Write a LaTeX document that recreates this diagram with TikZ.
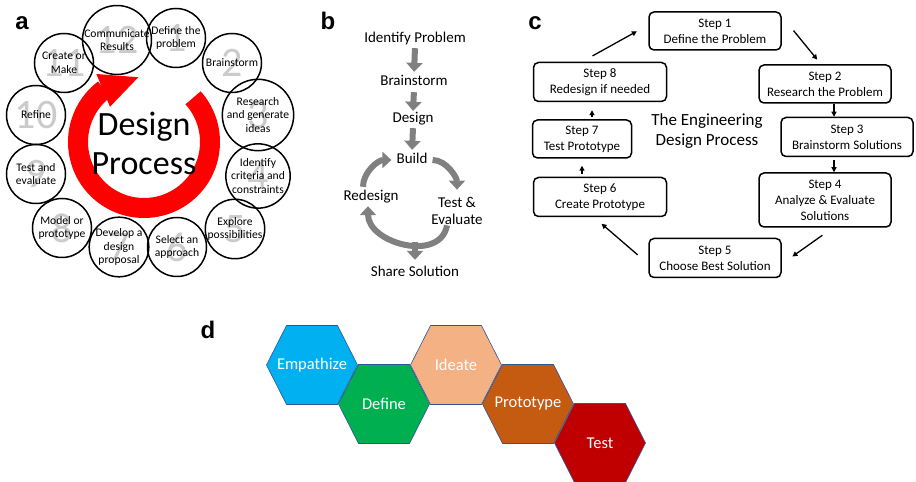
\documentclass[tikz,border=0pt]{standalone}
\usepackage{fontspec}
\setmainfont{Carlito}
\newfontfamily\labelfont{Liberation Sans}
\usepackage{xcolor}
\usepackage{tikz}
\usetikzlibrary{positioning,arrows.meta,calc}
\definecolor{ringred}  {HTML}{FF0000}
\definecolor{numgrey}  {HTML}{CBCBCB}
\definecolor{flowgrey} {HTML}{808080}
\definecolor{empblue}  {HTML}{00B0F0}
\definecolor{defgreen} {HTML}{00B050}
\definecolor{ideapeach}{HTML}{F4B183}
\definecolor{protorust}{HTML}{C55A11}
\definecolor{testred}  {HTML}{C00000}
\definecolor{hexline}  {HTML}{2F5597}
\tikzset{
  stage/.style    = {circle, draw=black, line width=1.5pt, minimum size=59pt,
                     inner sep=0pt, align=center, font=\fontsize{11.6}{13.6}\selectfont},
  stagenum/.style = {font=\fontsize{42}{42}\selectfont, text=numgrey},
  ring/.style     = {draw=ringred, line width=20pt},
  phase/.style    = {font=\fontsize{15}{17}\selectfont, inner sep=1pt, align=center},
  phaseline/.style= {phase, text height=11pt, text depth=3pt, anchor=base},
  bigflow/.style  = {draw=flowgrey, line width=6pt, -{Triangle[length=9pt,width=16pt]}},
  stepbox/.style  = {draw, rounded corners=5pt, line width=1.5pt, align=center,
                     minimum height=38pt, minimum width=132pt, inner sep=0pt,
                     font=\fontsize{13}{16}\selectfont},
  thinflow/.style = {-{Triangle[length=5pt,width=5pt]}, line width=1.3pt},
  hexa/.style     = {draw=hexline, line width=0.6pt},
  hexlbl/.style   = {text=white, font=\fontsize{16.5}{18}\selectfont},
  panel/.style    = {font=\labelfont\bfseries\fontsize{24}{24}\selectfont, anchor=base},
}

\begin{document}
\begin{tikzpicture}[x=1pt,y=1pt]
  \useasboundingbox (0,0) rectangle (916,482);
  \fill[white] (0,0) rectangle (916,482);

  % panel letters
  \node[panel] (lbla) at (22,452) {a};
  \node[panel] (lblb) at (328,452) {b};
  \node[panel] (lblc) at (535,452) {c};
  \node[panel] (lbld) at (208,143) {d};

  % a: design process wheel
  \coordinate (ctr) at (144,340);
  \draw[ring] ($(ctr)+(42:66)$) arc[start angle=42, end angle=-233, radius=66];
  \fill[ringred] ($(ctr)+(125:83)$) -- ($(ctr)+(95:65)$) -- ($(ctr)+(134:49)$) -- cycle;
  \node[font=\fontsize{34}{39}\selectfont, align=center] (dp) at (144,339) {Design\\Process};
  \foreach \px/\py/\n/\txt in {
      176/444/1/{Define the\\problem},
      232/419/2/{Brainstorm},
      258/367/3/{Research\\and generate\\ideas},
      258/306/4/{Identify\\criteria and\\constraints},
      235/253/5/{Explore\\possibilities},
      177/235/6/{Select an\\approach},
      119/235/7/{Develop a\\design\\proposal},
      62/254/8/{Model or\\prototype},
      36/308/9/{Test and\\evaluate},
      36/367/10/{Refine},
      64/419/11/{Create or\\Make},
      117/442/12/{Communicate\\Results}} {
    \node[stagenum] (num\n) at (\px,\py) {\n};
    \node[stage] (stage\n) at (\px,\py) {\txt};
  }

  % b: build loop
  \node[phaseline] (ip) at (415,439) {Identify Problem};
  \node[phaseline] (bs) at (414,396) {Brainstorm};
  \node[phaseline] (ds) at (413,359) {Design};
  \node[phaseline] (bd) at (412,318) {Build};
  \node[phaseline] (rd) at (371,281) {Redesign};
  \node[phase] (te) at (457,271.5) {Test \&\\Evaluate};
  \node[phaseline] (ss) at (415,205) {Share Solution};
  \coordinate (loopbot) at (415,240);
  \draw[bigflow, shorten <=1pt, shorten >=2pt] (ip.south) -- (bs.north);
  \draw[bigflow, shorten <=2pt] (bs.south) -- (ds.north);
  \draw[bigflow, shorten <=1pt, shorten >=2pt] (ds.south) -- (bd.north);
  \draw[bigflow, shorten <=4pt, shorten >=6pt] (bd.east) to[out=0,in=90] (te.north);
  \draw[bigflow, shorten >=1pt] ([xshift=-10pt]te.south) to[out=-100,in=-90,looseness=1.2] ([xshift=-3pt]rd.south);
  \draw[bigflow, shorten <=2pt, shorten >=4pt] ([xshift=-8pt]rd.north) to[out=90,in=180] (bd.west);
  \draw[bigflow, shorten >=5pt] (loopbot) -- (ss.north);

  % c: engineering design process
  \node[stepbox] (s1) at (715,451) {Step 1\\Define the Problem};
  \node[stepbox] (s2) at (825,398) {Step 2\\Research the Problem};
  \node[stepbox, minimum height=39pt] (s3) at (847,345) {Step 3\\Brainstorm Solutions};
  \node[stepbox, minimum height=54pt] (s4) at (825,282) {Step 4\\Analyze \& Evaluate\\Solutions};
  \node[stepbox, minimum height=39pt] (s5) at (715,224) {Step 5\\Choose Best Solution};
  \node[stepbox, minimum height=39pt, minimum width=133pt] (s6) at (600,285) {Step 6\\Create Prototype};
  \node[stepbox, minimum width=99pt] (s7) at (582,343) {Step 7\\Test Prototype};
  \node[stepbox, minimum height=39pt, minimum width=133pt] (s8) at (600,400) {Step 8\\Redesign if needed};
  \node[font=\fontsize{17}{20}\selectfont, align=center] (edp) at (707,351) {The Engineering\\Design Process};
  \draw[thinflow, shorten <=12pt, shorten >=13pt] ([xshift=-18pt]s8.north) -- ([yshift=6pt]s1.west);
  \draw[thinflow, shorten <=25pt, shorten >=6pt] ([xshift=-4pt]s1.north east) -- ([xshift=-4pt]s2.north);
  \draw[thinflow] ([xshift=9pt]s2.south) -- ([xshift=9pt]s2.south |- s3.north);
  \draw[thinflow, shorten <=3pt] ([xshift=9pt]s4.north |- s3.south) -- ([xshift=9pt]s4.north);
  \draw[thinflow, shorten <=13pt, shorten >=13pt] ([xshift=8pt]s4.south) -- ([yshift=-6pt]s5.east);
  \draw[thinflow, shorten <=14pt, shorten >=10pt] ([yshift=-6pt]s5.west) -- ([xshift=-6pt]s6.south);
  \draw[thinflow, shorten <=3pt, shorten >=7pt] (s6.north -| s7.south) -- (s7.south);
  \draw[thinflow, shorten <=2pt, shorten >=8pt] ([xshift=10pt]s7.north) -- ([xshift=10pt]s7.north |- s8.south);

  % d: design thinking hexagons
  \foreach \hx/\hy/\hcol/\hname [count=\i] in {312/117/empblue/Empathize, 384/78/defgreen/Define,
      456/117/ideapeach/Ideate, 528/78/protorust/Prototype, 600/39/testred/Test} {
    \draw[hexa, fill=\hcol] (\hx-45.5,\hy) -- ++(20,39.5) -- ++(51,0) -- ++(20,-39.5)
      -- ++(-20,-39.5) -- ++(-51,0) -- cycle;
    \node[hexlbl] (hex\i) at (\hx,\hy) {\hname};
  }
\end{tikzpicture}
\end{document}
